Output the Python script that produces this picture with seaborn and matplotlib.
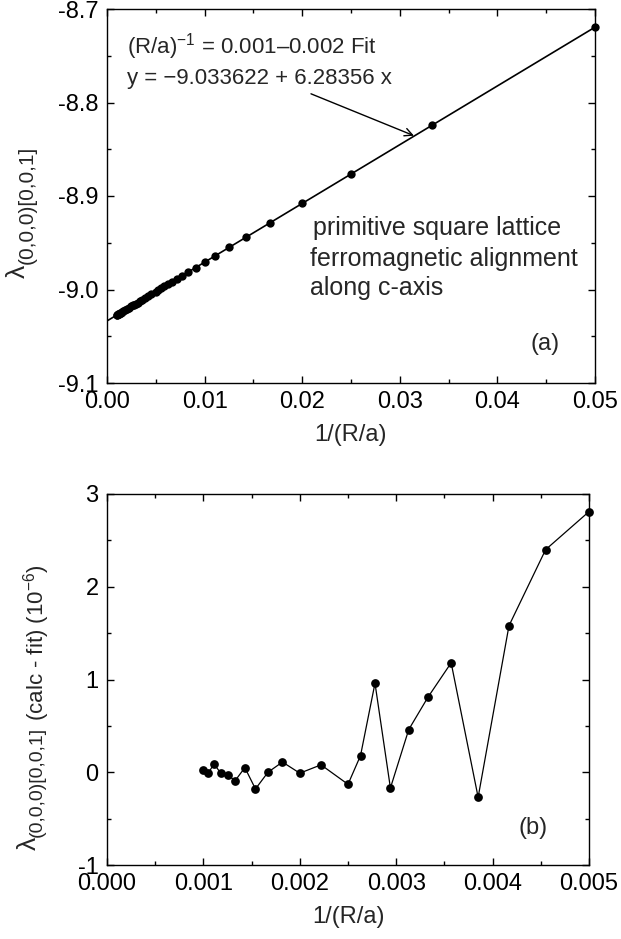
import numpy as np
import pandas as pd
import matplotlib
matplotlib.use("Agg")
import matplotlib.pyplot as plt
from matplotlib.ticker import MultipleLocator, FormatStrFormatter
from matplotlib.transforms import IdentityTransform
import seaborn as sns

# ---- data ----
# panel (a): 1/(R/a) and lambda_(0,0,0)[0,0,1]
inv_r_a = [0.05, 0.03333, 0.025, 0.02, 0.01667, 0.01429, 0.0125, 0.01111, 0.01,
           0.00909, 0.00833, 0.00769, 0.00714, 0.00667, 0.00625, 0.00588, 0.00556,
           0.00526, 0.005, 0.00455, 0.00417, 0.00385, 0.00357, 0.00333, 0.00313,
           0.00294, 0.00278, 0.00263, 0.0025, 0.00222, 0.002, 0.00182, 0.00167,
           0.00154, 0.00143, 0.00133, 0.00125, 0.00118, 0.00111, 0.00105, 0.001]
lam = [-8.71944, -8.82419, -8.87654, -8.90795, -8.92888, -8.94383, -8.95508, -8.96381,
       -8.97079, -8.97650, -8.98128, -8.98530, -8.98876, -8.99171, -8.99435, -8.99667,
       -8.99868, -9.00057, -9.00220, -9.00503, -9.00742, -9.00943, -9.01119, -9.01270,
       -9.01395, -9.01515, -9.01615, -9.01709, -9.01791, -9.01967, -9.02106, -9.02219,
       -9.02313, -9.02394, -9.02464, -9.02527, -9.02577, -9.02621, -9.02665, -9.02702,
       -9.02734]

# fit from the legend text
fit_intercept = -9.033622
fit_slope = 6.28356
fit_x = [0.0, 0.05]

# panel (b): residual (calc - fit) in units of 1e-6
res_x = [0.001, 0.00105, 0.00111, 0.00118, 0.00125, 0.00133, 0.00143, 0.00154,
         0.00167, 0.00182, 0.002, 0.00222, 0.0025, 0.00263, 0.00278, 0.00294,
         0.00313, 0.00333, 0.00357, 0.00385, 0.00417, 0.00455, 0.005]
res_y = [0.02, -0.01, 0.09, -0.01, -0.03, -0.09, 0.05, -0.18,
         0.0, 0.11, -0.01, 0.08, -0.13, 0.18, 0.96, -0.17,
         0.46, 0.81, 1.18, -0.27, 1.58, 2.40, 2.81]

# ---- style ----
sns.set_style("ticks")
plt.rcParams["font.family"] = ["Liberation Sans", "DejaVu Sans"]
plt.rcParams["mathtext.fontset"] = "custom"
plt.rcParams["mathtext.rm"] = "Liberation Sans"
plt.rcParams["mathtext.it"] = "Liberation Sans:italic"
plt.rcParams["mathtext.sf"] = "Liberation Sans"
plt.rcParams["axes.unicode_minus"] = False
plt.rcParams["font.size"] = 17
plt.rcParams["axes.linewidth"] = 1.0

fig = plt.figure(figsize=(6.21, 9.39), dpi=100)
W, H = 621, 939
ax1 = fig.add_axes([107 / W, 1 - 383 / H, 488 / W, 374 / H])
ax2 = fig.add_axes([107 / W, 1 - 865 / H, 482 / W, 371 / H])


def style_axes(ax):
    ax.tick_params(which="both", direction="in", top=True, right=True,
                   width=1.0, colors="black", labelsize=17, pad=6)
    ax.tick_params(which="major", length=5)
    ax.tick_params(which="minor", length=2.8)
    for s in ax.spines.values():
        s.set_visible(True)
        s.set_color("black")
        s.set_linewidth(1.0)


# rotated label built from pieces so the subscript can be larger than mathtext allows
def vertical_label(x_base, y_center, parts):
    renderer = fig.canvas.get_renderer()
    items = []
    for s, fs, dx in parts:
        t = fig.text(0, 0, s, fontsize=fs, rotation=90, rotation_mode="anchor",
                     ha="left", va="baseline", transform=IdentityTransform())
        items.append((t, t.get_window_extent(renderer).height, dx))
    total = sum(h for _, h, _ in items)
    y = y_center - total / 2
    for t, h, dx in items:
        t.set_position((x_base + dx, y))
        y += h


# ---- panel (a) ----
df_a = pd.DataFrame({"x": inv_r_a, "y": lam})
fit_df = pd.DataFrame({"x": fit_x,
                       "y": fit_intercept + fit_slope * np.array(fit_x)})
sns.lineplot(data=fit_df, x="x", y="y", ax=ax1, color="black", linewidth=1.2)
sns.scatterplot(data=df_a, x="x", y="y", ax=ax1, color="black", s=36,
                linewidth=0, zorder=3, clip_on=False)
ax1.set_xlim(0.0, 0.05)
ax1.set_ylim(-9.1, -8.7)
ax1.xaxis.set_major_locator(MultipleLocator(0.01))
ax1.xaxis.set_minor_locator(MultipleLocator(0.005))
ax1.yaxis.set_major_locator(MultipleLocator(0.1))
ax1.yaxis.set_minor_locator(MultipleLocator(0.05))
ax1.xaxis.set_major_formatter(FormatStrFormatter("%.2f"))
ax1.yaxis.set_major_formatter(FormatStrFormatter("%.1f"))
style_axes(ax1)
ax1.set_xlabel("1/(R/a)", fontsize=17, labelpad=8)
ax1.set_ylabel("")

ax1.text(0.0021, -8.748, r"(R/a)$^{-1}$ = 0.001–0.002 Fit", fontsize=16,
         va="baseline", ha="left")
ax1.text(0.0021, -8.780, "y = −9.033622 + 6.28356 x", fontsize=16,
         va="baseline", ha="left")
ax1.annotate("", xy=(0.03145, -8.8355), xytext=(0.0209, -8.7907),
             arrowprops=dict(arrowstyle="->", color="black", lw=1.0,
                             mutation_scale=14, shrinkA=0, shrinkB=0))
ax1.text(0.0211, -8.942, "primitive square lattice", fontsize=18, va="baseline")
ax1.text(0.0208, -8.975, "ferromagnetic alignment", fontsize=18, va="baseline")
ax1.text(0.0208, -9.006, "along c-axis", fontsize=18, va="baseline")
ax1.text(0.0449, -9.065, "(a)", fontsize=17, va="baseline", ha="center")

# ---- panel (b) ----
df_b = pd.DataFrame({"x": res_x, "y": res_y})
sns.lineplot(data=df_b, x="x", y="y", ax=ax2, color="black", linewidth=0.9,
             marker="o", markersize=6.3, markeredgewidth=0,
             markerfacecolor="black", clip_on=False)
ax2.set_xlim(0.0, 0.005)
ax2.set_ylim(-1, 3)
ax2.xaxis.set_major_locator(MultipleLocator(0.001))
ax2.xaxis.set_minor_locator(MultipleLocator(0.0005))
ax2.yaxis.set_major_locator(MultipleLocator(1))
ax2.yaxis.set_minor_locator(MultipleLocator(0.5))
ax2.xaxis.set_major_formatter(FormatStrFormatter("%.3f"))
ax2.yaxis.set_major_formatter(FormatStrFormatter("%d"))
style_axes(ax2)
ax2.set_xlabel("1/(R/a)", fontsize=17, labelpad=8)
ax2.set_ylabel("")
ax2.text(0.00442, -0.667, "(b)", fontsize=17, va="baseline", ha="center")

# y labels (display pixels, origin bottom-left)
vertical_label(25, H - 212, [("λ", 19, 0), ("(0,0,0)[0,0,1]", 15, 8)])
vertical_label(36, H - 707, [("λ", 19, 0), ("(0,0,0)[0,0,1]", 14, 6),
                             (r" (calc - fit) (10$^{-6}$)", 16, 7)])

fig.savefig("out.png", dpi=100)
